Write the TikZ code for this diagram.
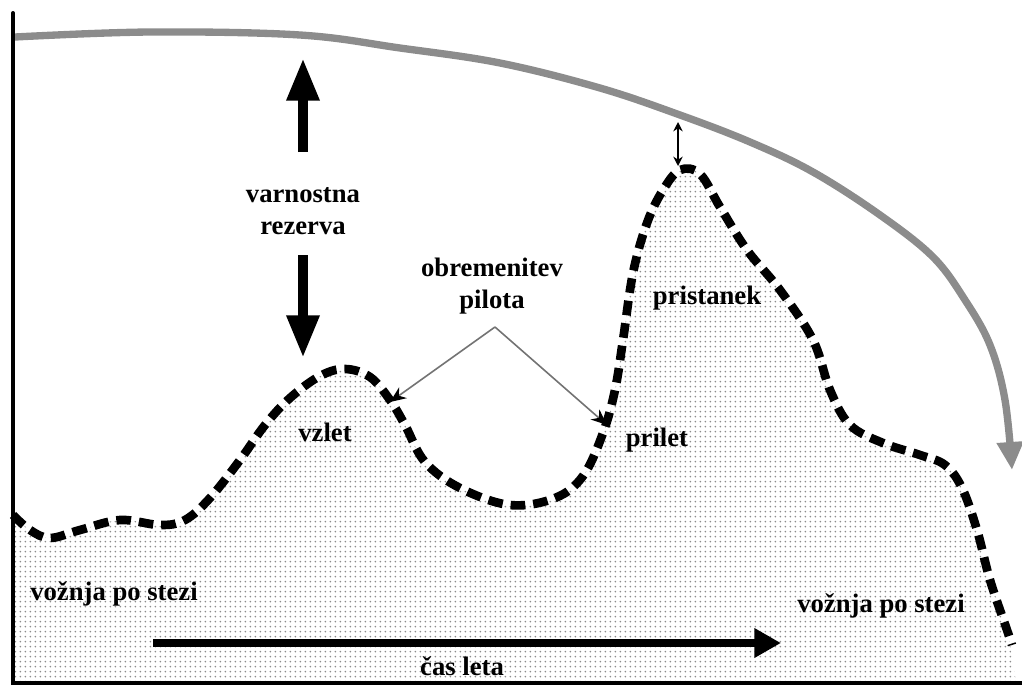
\documentclass[tikz,border=0pt]{standalone}
\usepackage{fontspec}
\setmainfont{Liberation Serif}
\usetikzlibrary{arrows.meta,patterns.meta}

\begin{document}
\begin{tikzpicture}[x=0.75pt,y=-0.75pt,
    lbl/.style={font=\bfseries\fontsize{20}{24}\selectfont, align=center, inner sep=0pt},
    bigarrow/.style={line width=7.5pt, -{Triangle[length=32pt,width=23pt]}},
    pointer/.style={draw=black!55, line width=1.2pt, -{Stealth[length=12pt,width=10pt,black]}}]
    \useasboundingbox (0,0) rectangle (1022,686);

    % obremenitev -- pikcasto polje pod krivuljo
    \fill[pattern={Dots[distance=4pt,radius=0.8pt]}, pattern color=black!45]
        plot[smooth, tension=0.6] coordinates {(13,515) (30,530) (50,538) (80,530) (120,520) (160,525)
          (185,520) (210,498) (240,460) (265,425) (290,398) (320,376) (345,369) (370,377) (390,400)
          (405,425) (425,462) (460,488) (510,505) (555,498) (583,476) (603,433) (615,390) (623,340)
          (633,273) (647,223) (663,190) (680,170) (700,174) (720,207) (747,250) (780,290) (813,340)
          (830,390) (850,425) (883,443) (920,455) (945,465) (962,488) (977,530) (990,580) (1007,630)
          (1016,683)}
        -- (13,683) -- cycle;
    \draw[line width=6.5pt, dash pattern=on 11pt off 6pt]
        plot[smooth, tension=0.6] coordinates {(13,515) (30,530) (50,538) (80,530) (120,520) (160,525)
          (185,520) (210,498) (240,460) (265,425) (290,398) (320,376) (345,369) (370,377) (390,400)
          (405,425) (425,462) (460,488) (510,505) (555,498) (583,476) (603,433) (615,390) (623,340)
          (633,273) (647,223) (663,190) (680,170) (700,174) (720,207) (747,250) (780,290) (813,340)
          (830,390) (850,425) (883,443) (920,455) (945,465) (962,488) (977,530) (990,580) (1007,630)
          (1012,645)};

    % zmogljivost pilota
    \draw[black!45, line width=5.5pt, -{Triangle[length=21pt,width=19pt]}]
        plot[smooth, tension=0.6] coordinates {(15,37) (150,32) (300,35) (400,48) (500,63) (600,88)
          (680,115) (750,142) (813,172) (880,215) (933,257) (965,300) (990,345) (1005,400) (1012,470)};

    % osi
    \draw[line width=3pt, line cap=round] (13,13) -- (13,683) -- (1022,683);

    % oznake
    \node[lbl] (rezerva) at (303,211) {varnostna\\rezerva};
    \node[lbl] (obrem) at (492,286) {obremenitev\\pilota};
    \node[lbl] (vzlet) at (325,432) {vzlet};
    \node[lbl] (prilet) at (657,440) {prilet};
    \node[lbl] (pristanek) at (707,298) {pristanek};
    \node[lbl] (voznja1) at (114,594) {vožnja po stezi};
    \node[lbl] (voznja2) at (881,606) {vožnja po stezi};
    \node[lbl] (cas) at (462,666) {čas leta};

    \coordinate (upfrom) at (303,152);
    \coordinate (upto) at (303,58);
    \coordinate (downfrom) at (303,255);
    \coordinate (downto) at (303,358);
    \coordinate (ptr) at (495,327);
    \coordinate (vzletpt) at (390,402);
    \coordinate (priletpt) at (607,425);
    \coordinate (gaptop) at (678,122);
    \coordinate (gapbot) at (678,166);
    \coordinate (tstart) at (153,643);
    \coordinate (tend) at (781,643);

    \draw[bigarrow] (upfrom) -- (upto);
    \draw[bigarrow] (downfrom) -- (downto);
    \draw[pointer] (ptr) -- (vzletpt);
    \draw[pointer] (ptr) -- (priletpt);
    \draw[line width=1.2pt, {Stealth[length=7pt,width=7pt]}-{Stealth[length=7pt,width=7pt]}] (gaptop) -- (gapbot);
    \draw[line width=6pt, -{Triangle[length=20pt,width=21pt]}] (tstart) -- (tend);
\end{tikzpicture}
\end{document}
